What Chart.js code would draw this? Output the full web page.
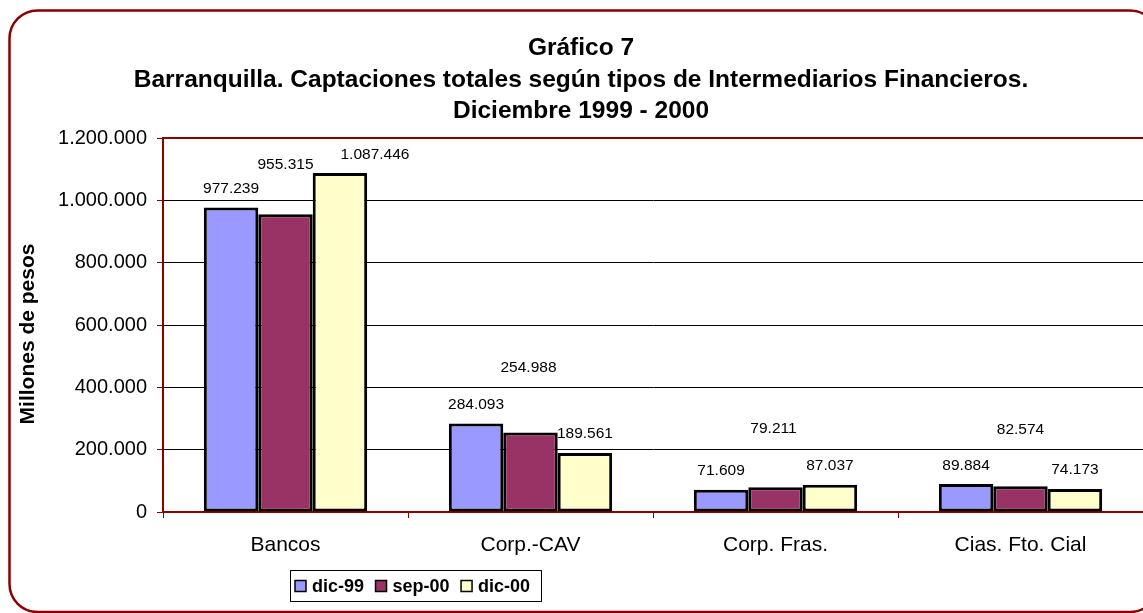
<!DOCTYPE html>
<html>
<head>
<meta charset="utf-8">
<script src="https://cdn.jsdelivr.net/npm/chart.js@4/dist/chart.umd.min.js"></script>
<style>
  html, body { margin: 0; padding: 0; background: #fff; overflow: hidden; }
  #wrap { width: 1143px; height: 613px; }
</style>
</head>
<body>
<div id="wrap"><canvas id="c" width="1143" height="613"></canvas></div>
<script>
// ---- Data ----
const categories = ['Bancos', 'Corp.-CAV', 'Corp. Fras.', 'Cias. Fto. Cial'];
const seriesNames = ['dic-99', 'sep-00', 'dic-00'];
const dic99 = [977239, 284093, 71609, 89884];
const sep00 = [955315, 254988, 79211, 82574];
const dic00 = [1087446, 189561, 87037, 74173];
const yTicks = [0, 200000, 400000, 600000, 800000, 1000000, 1200000];
const titleLines = ['Gráfico 7',
  'Barranquilla. Captaciones totales según tipos de Intermediarios Financieros.',
  'Diciembre 1999 - 2000'];
const yTitle = 'Millones de pesos';

// ---- Styling ----
const FONT = "'Liberation Sans', Arial, Helvetica, sans-serif";
const DARKRED = '#8B0000';
const colors = ['#9999FF', '#993366', '#FFFFCC'];

function fmt(v) {
  return String(Math.round(v)).replace(/\B(?=(\d{3})+(?!\d))/g, '.');
}

Chart.defaults.font.family = FONT;
Chart.defaults.color = '#000';

// label placement tweaks (dataset index -> per-category offsets), mimicking the original
const labelDy = [[-18.5, -18.5, -18.5, -18.5], [-50, -65, -59, -57], [-18, -19, -19, -19]];
const labelDx = [[0, 0, 0, 0], [0, -2, -2, 0], [35, 0, 0, 0]];

const decorPlugin = {
  id: 'decor',
  beforeDraw(chart) {
    const ctx = chart.ctx;
    ctx.save();
    ctx.fillStyle = '#fff';
    ctx.fillRect(0, 0, chart.width, chart.height);
    ctx.restore();
  },
  afterDatasetsDraw(chart) {
    const ctx = chart.ctx;
    const area = chart.chartArea;
    ctx.save();
    // top frame of plot area
    ctx.strokeStyle = DARKRED;
    ctx.lineWidth = 2;
    ctx.beginPath();
    ctx.moveTo(area.left, area.top);
    ctx.lineTo(area.right + 5, area.top);
    ctx.stroke();

    // data labels
    ctx.fillStyle = '#000';
    ctx.font = '15.5px ' + FONT;
    ctx.textAlign = 'center';
    ctx.textBaseline = 'middle';
    chart.data.datasets.forEach((ds, di) => {
      const meta = chart.getDatasetMeta(di);
      meta.data.forEach((el, i) => {
        ctx.fillText(fmt(ds.data[i]), el.x + labelDx[di][i], el.y + labelDy[di][i]);
      });
    });

    // titles
    ctx.font = 'bold 24.5px ' + FONT;
    ctx.textBaseline = 'alphabetic';
    const tb = [55, 87, 118];
    titleLines.forEach((t, i) => ctx.fillText(t, 581, tb[i]));

    // y axis title
    ctx.save();
    ctx.translate(28, 334);
    ctx.rotate(-Math.PI / 2);
    ctx.font = 'bold 21px ' + FONT;
    ctx.textBaseline = 'middle';
    ctx.fillText(yTitle, 0, 0);
    ctx.restore();

    // legend
    const lx = 290.5, ly = 570.5, lw = 251, lh = 31;
    ctx.strokeStyle = '#000';
    ctx.lineWidth = 1;
    ctx.strokeRect(lx, ly, lw, lh);
    ctx.font = 'bold 18px ' + FONT;
    ctx.textAlign = 'left';
    ctx.textBaseline = 'middle';
    let x = 295;
    const cy = 586;
    chart.data.datasets.forEach((ds, di) => {
      ctx.fillStyle = ds.backgroundColor;
      ctx.fillRect(x, cy - 5.5, 11, 11);
      ctx.lineWidth = 1.5;
      ctx.strokeStyle = '#000';
      ctx.strokeRect(x, cy - 5.5, 11, 11);
      ctx.fillStyle = '#000';
      ctx.fillText(ds.label, x + 17, cy + 1);
      x += 17 + ctx.measureText(ds.label).width + 11.5;
    });

    // outer rounded border
    ctx.strokeStyle = DARKRED;
    ctx.lineWidth = 2.5;
    ctx.beginPath();
    ctx.roundRect(9.5, 10.5, 1148.5, 601.5, 28);
    ctx.stroke();
    ctx.restore();
  }
};

const chart = new Chart(document.getElementById('c'), {
  type: 'bar',
  data: {
    labels: categories,
    datasets: [
      { label: seriesNames[0], data: dic99, backgroundColor: colors[0] },
      { label: seriesNames[1], data: sep00, backgroundColor: colors[1] },
      { label: seriesNames[2], data: dic00, backgroundColor: colors[2] }
    ].map(d => Object.assign(d, {
      borderColor: '#000', borderWidth: 3, borderSkipped: false,
      categoryPercentage: 2 / 3, barPercentage: 1
    }))
  },
  options: {
    responsive: false,
    devicePixelRatio: 1,
    animation: false,
    layout: { padding: { top: 138, left: 0, right: 0, bottom: 0 } },
    plugins: {
      legend: { display: false },
      title: { display: false },
      tooltip: { enabled: false }
    },
    scales: {
      x: {
        grid: { offset: true, drawOnChartArea: false, drawTicks: true, tickLength: 6, tickColor: DARKRED, lineWidth: 1 },
        border: { display: true, color: DARKRED, width: 2 },
        ticks: { font: { size: 21 }, color: '#000', padding: 15, maxRotation: 0 },
        afterFit(s) { s.height = 101; }
      },
      y: {
        min: 0, max: 1200000,
        afterBuildTicks(s) { s.ticks = yTicks.map(v => ({ value: v })); },
        grid: {
          color: (c) => (c.tick && (c.tick.value === 0 || c.tick.value === 1200000)) ? 'rgba(0,0,0,0)' : '#000',
          lineWidth: 1, tickLength: 6, tickColor: DARKRED, drawTicks: true
        },
        border: { display: true, color: DARKRED, width: 2 },
        ticks: { font: { size: 20 }, color: '#000', padding: 10, callback: (v) => fmt(v) },
        afterFit(s) { s.width = 163; }
      }
    }
  },
  plugins: [decorPlugin]
});
</script>
</body>
</html>
